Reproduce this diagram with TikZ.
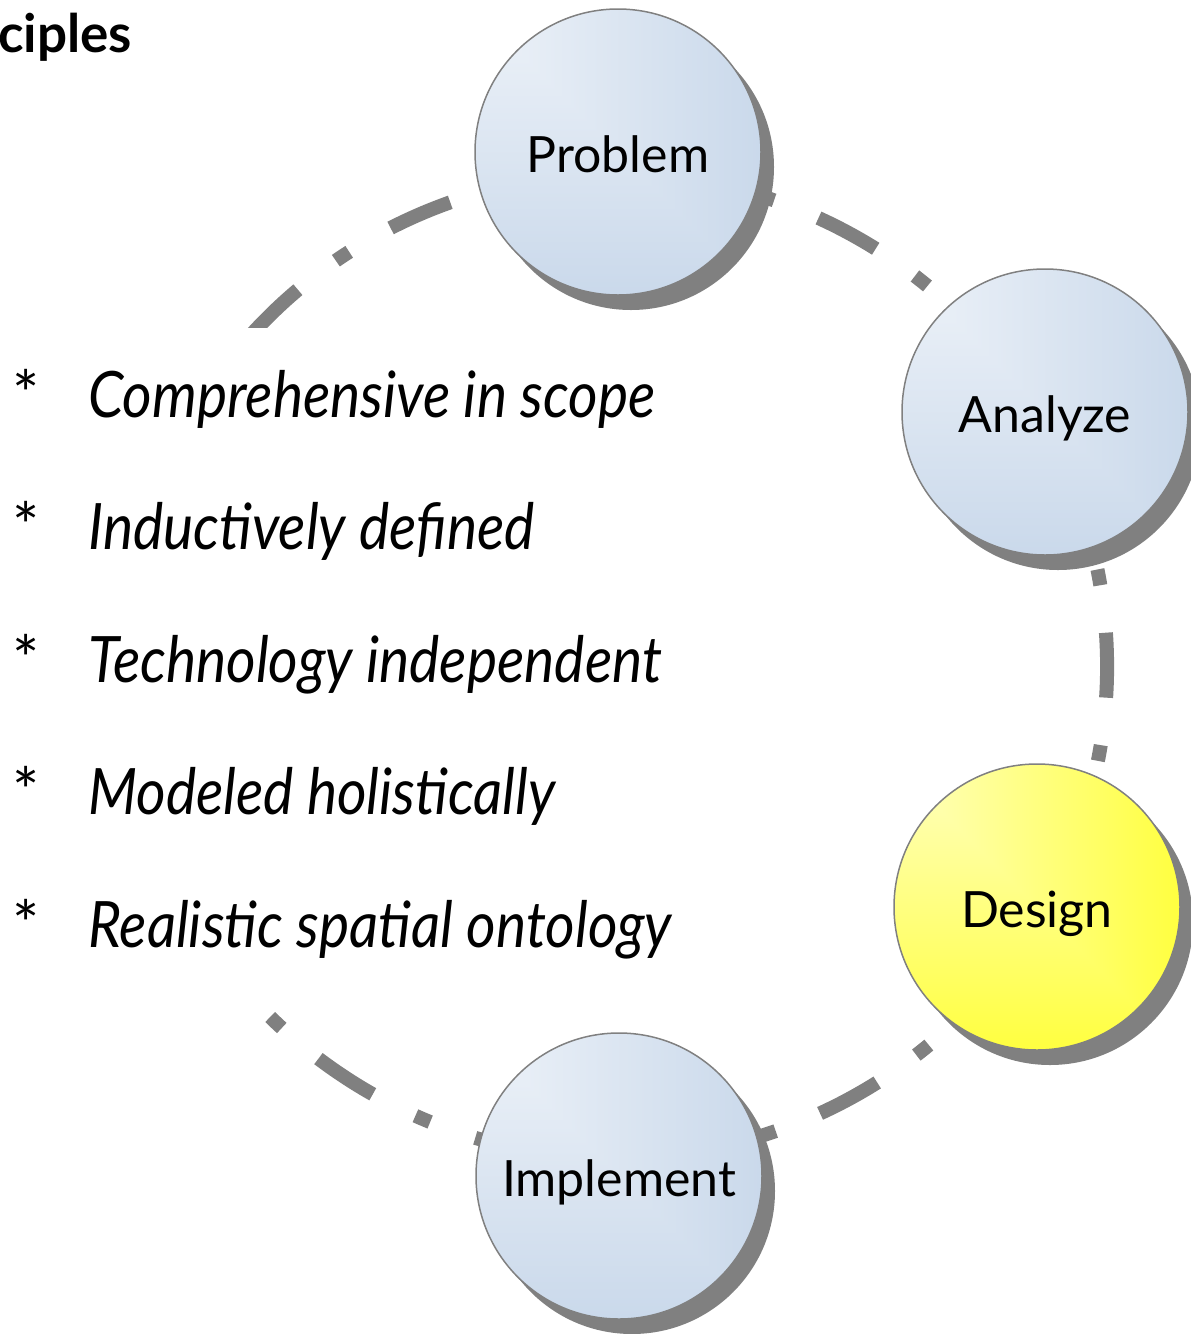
\documentclass[tikz,border=0pt]{standalone}
\usepackage{fontspec}
\setmainfont{Lato}
\newfontfamily\itemfamily[FakeStretch=0.89]{Lato}
\usetikzlibrary{shadows}
\definecolor{shadowgray}{HTML}{808080}
% corner gradient: white at the top-left corner, full colour towards right and bottom
\pgfdeclarefunctionalshading{ballblue}{\pgfpoint{-50bp}{-50bp}}{\pgfpoint{50bp}{50bp}}{}{
  50 exch sub exch 50 add 2 copy lt {exch} if pop 100 div
  dup 0.278 mul 1 exch sub exch
  dup 0.2 mul 1 exch sub exch
  0.106 mul 1 exch sub
}
\pgfdeclarefunctionalshading{ballyellow}{\pgfpoint{-50bp}{-50bp}}{\pgfpoint{50bp}{50bp}}{}{
  50 exch sub exch 50 add 2 copy lt {exch} if pop 100 div
  1 exch 1 exch 1 exch sub
}
\begin{document}
\begin{tikzpicture}[x=1pt,y=1pt,
  ball/.style={circle, minimum size=286pt, inner sep=0pt, draw=shadowgray, line width=1.5pt,
    font=\fontsize{50}{60}\selectfont, text height=40pt, text depth=0pt,
    drop shadow={shadow xshift=13pt, shadow yshift=-15pt, fill=shadowgray, opacity=1, draw=none}},
  blueball/.style={ball, shading=ballblue},
  yellowball/.style={ball, shading=ballyellow},
  cycleline/.style={draw=shadowgray, line width=14pt, line cap=butt,
    dash pattern=on 16pt off 47.8pt on 65pt off 47.8pt, dash phase=158.3pt},
  itemtext/.style={anchor=base west, inner sep=0pt, font=\itemfamily\itshape\fontsize{64}{70}\selectfont},
  bullettext/.style={anchor=base west, inner sep=0pt, font=\fontsize{64}{70}\selectfont},
  titletext/.style={anchor=base west, inner sep=0pt, font=\bfseries\fontsize{53}{60}\selectfont}]
\useasboundingbox (0,0) rectangle (1191,-1334);
\fill[white] (0,0) rectangle (1191,-1334);
\coordinate (ctr) at (615,-666);
\draw[cycleline] (ctr) ++(100:492) arc[start angle=100, end angle=460, radius=492];
\node[fill=white, inner sep=0pt, minimum width=700pt, minimum height=684pt, anchor=north west] (textbox) at (0,-328) {};
\node[titletext] (title) at (-2,-52) {ciples};
\node[blueball] (problem) at (618,-152) {Problem};
\node[blueball] (analyze) at (1045,-412) {Analyze};
\node[yellowball] (design) at (1037,-907) {Design};
\node[blueball] (implement) at (619,-1176) {Implement};
\node[bullettext] (b1) at (12,-417) {*};
\node[bullettext] (b2) at (12,-549.5) {*};
\node[bullettext] (b3) at (12,-682) {*};
\node[bullettext] (b4) at (12,-814.5) {*};
\node[bullettext] (b5) at (12,-947) {*};
\node[itemtext] (i1) at (88,-417) {Comprehensive in scope};
\node[itemtext] (i2) at (88,-549.5) {Inductively defined};
\node[itemtext] (i3) at (88,-682) {Technology independent};
\node[itemtext] (i4) at (88,-814.5) {Modeled holistically};
\node[itemtext] (i5) at (88,-947) {Realistic spatial ontology};
\end{tikzpicture}
\end{document}
